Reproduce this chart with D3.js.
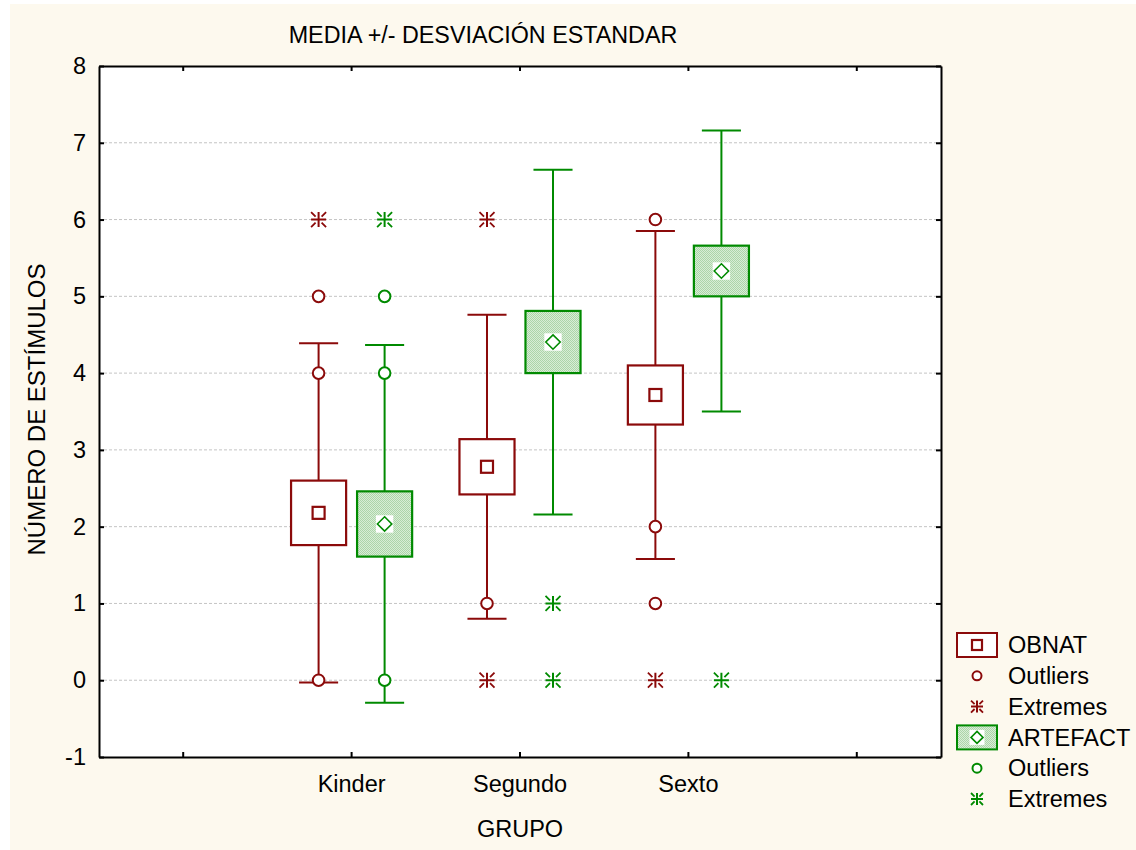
<!DOCTYPE html>
<html>
<head>
<meta charset="utf-8">
<script src="https://cdn.jsdelivr.net/npm/d3@7"></script>
<style>
  html, body { margin: 0; padding: 0; background: #ffffff; }
  svg { display: block; }
  text { font-family: "Liberation Sans", Arial, sans-serif; fill: #000; }
</style>
</head>
<body>
<svg id="chart" width="1136" height="850"></svg>
<script>
// Group labels along the x axis (outer slots are empty padding slots)
const xSlots = ["pad0", "Kinder", "Segundo", "Sexto", "pad1"];
const xTickLabels = ["", "Kinder", "Segundo", "Sexto", ""];
const groups = ["Kinder", "Segundo", "Sexto"];
const seriesNames = ["OBNAT", "ARTEFACT"];
const yTicks = [-1, 0, 1, 2, 3, 4, 5, 6, 7, 8];
const gridValues = [0, 1, 2, 3, 4, 5, 6, 7];

// OBNAT: mean, standard error (box half-height), standard deviation (whisker)
const obnatMean = [2.18, 2.78, 3.715];
const obnatSE = [0.42, 0.36, 0.385];
const obnatSD = [2.21, 1.98, 2.135];
const obnatOutliers = [[0, 4, 5], [1], [1, 2, 6]];
const obnatExtremes = [[6], [0, 6], [0]];

// ARTEFACT
const artefactMean = [2.035, 4.405, 5.33];
const artefactSE = [0.425, 0.405, 0.33];
const artefactSD = [2.33, 2.245, 1.83];
const artefactOutliers = [[0, 4, 5], [], []];
const artefactExtremes = [[6], [0, 1], [0]];

const RED = "#8b0a0a";
const GREEN = "#008a00";
const FONT = "23.5px";

const svg = d3.select("#chart");
const defs = svg.append("defs");
// dithered light-green fill for ARTEFACT boxes
const pat = defs.append("pattern").attr("id", "greenDither")
  .attr("width", 2).attr("height", 2).attr("patternUnits", "userSpaceOnUse");
pat.append("rect").attr("width", 2).attr("height", 2).attr("fill", "#d8edd6");
pat.append("rect").attr("width", 1).attr("height", 1).attr("fill", "#acd5a9");
pat.append("rect").attr("x", 1).attr("y", 1).attr("width", 1).attr("height", 1).attr("fill", "#acd5a9");

// page background
svg.append("rect").attr("x", 10).attr("y", 4).attr("width", 1126).attr("height", 846)
  .attr("fill", "#fdf9ee");

const plot = { left: 99, right: 941, top: 66, bottom: 757 };
svg.append("rect").attr("x", plot.left).attr("y", plot.top)
  .attr("width", plot.right - plot.left).attr("height", plot.bottom - plot.top)
  .attr("fill", "#ffffff");

const x = d3.scaleBand().domain(xSlots).range([plot.left, plot.right]).padding(0);
const y = d3.scaleLinear().domain([-1, 8]).range([plot.bottom, plot.top]);
const bw = x.bandwidth();
const inner = d3.scalePoint().domain(seriesNames).range([-0.196 * bw, 0.196 * bw]);
const boxW = 0.327 * bw;
const capW = 0.232 * bw;

// horizontal dashed grid
svg.append("g").selectAll("line").data(gridValues).join("line")
  .attr("x1", plot.left).attr("x2", plot.right)
  .attr("y1", d => y(d)).attr("y2", d => y(d))
  .attr("stroke", "#c4c4c4").attr("stroke-width", 1).attr("stroke-dasharray", "3,2");

// data table for the two series
const series = [
  { name: "OBNAT", color: RED, fill: "#ffffff", mean: obnatMean, se: obnatSE, sd: obnatSD,
    outliers: obnatOutliers, extremes: obnatExtremes, marker: "square" },
  { name: "ARTEFACT", color: GREEN, fill: "url(#greenDither)", mean: artefactMean, se: artefactSE, sd: artefactSD,
    outliers: artefactOutliers, extremes: artefactExtremes, marker: "diamond" }
];

function cx(group, s) { return x(group) + bw / 2 + inner(s); }

function drawMeanMarker(g, type, px, py, color, size) {
  if (type === "square") {
    g.append("rect").attr("x", px - size / 2).attr("y", py - size / 2)
      .attr("width", size).attr("height", size)
      .attr("fill", "#ffffff").attr("stroke", color).attr("stroke-width", 2.2);
  } else {
    const h = size * 0.6;
    g.append("rect").attr("x", px - h - 1.5).attr("y", py - h - 1.5)
      .attr("width", 2 * h + 3).attr("height", 2 * h + 3).attr("fill", "#ffffff");
    g.append("path")
      .attr("d", `M${px},${py - h}L${px + h},${py}L${px},${py + h}L${px - h},${py}Z`)
      .attr("fill", "#ffffff").attr("stroke", color).attr("stroke-width", 1.6);
  }
}

function drawExtreme(g, px, py, color, r) {
  g.append("path")
    .attr("d", `M${px - r},${py}H${px + r}M${px},${py - r}V${py + r}`)
    .attr("stroke", color).attr("stroke-width", 2).attr("fill", "none");
  const a = r * 0.4, b = r;
  let d = "";
  [[1, 1], [1, -1], [-1, 1], [-1, -1]].forEach(([sx, sy]) => {
    d += `M${px + sx * a},${py + sy * a}L${px + sx * b},${py + sy * b}`;
  });
  g.append("path").attr("d", d).attr("stroke", color).attr("stroke-width", 1.8).attr("fill", "none");
}

function drawOutlier(g, px, py, color, r) {
  g.append("circle").attr("cx", px).attr("cy", py).attr("r", r)
    .attr("fill", "#ffffff").attr("stroke", color).attr("stroke-width", 2);
}

const marks = svg.append("g");
series.forEach(s => {
  groups.forEach((grp, i) => {
    const px = cx(grp, s.name);
    const m = s.mean[i], se = s.se[i], sd = s.sd[i];
    const g = marks.append("g");
    // whisker (mean ± SD)
    g.append("line").attr("x1", px).attr("x2", px)
      .attr("y1", y(m + sd)).attr("y2", y(m - sd))
      .attr("stroke", s.color).attr("stroke-width", 2);
    [m + sd, m - sd].forEach(v => {
      g.append("line").attr("x1", px - capW / 2).attr("x2", px + capW / 2)
        .attr("y1", y(v)).attr("y2", y(v))
        .attr("stroke", s.color).attr("stroke-width", 2);
    });
    // box (mean ± SE)
    g.append("rect").attr("x", px - boxW / 2).attr("y", y(m + se))
      .attr("width", boxW).attr("height", y(m - se) - y(m + se))
      .attr("fill", s.fill).attr("stroke", s.color).attr("stroke-width", 2.2);
    drawMeanMarker(g, s.marker, px, y(m), s.color, 12);
  });
});

// outliers and extremes on top
series.forEach(s => {
  groups.forEach((grp, i) => {
    const px = cx(grp, s.name);
    s.outliers[i].forEach(v => drawOutlier(marks, px, y(v), s.color, 5.8));
    s.extremes[i].forEach(v => drawExtreme(marks, px, y(v), s.color, 7.5));
  });
});

// axes: frame with inward ticks
const fmtX = (d, i) => xTickLabels[i];
const axisStyle = g => {
  g.select(".domain").attr("stroke", "#000").attr("stroke-width", 2);
  g.selectAll(".tick line").attr("stroke", "#000").attr("stroke-width", 2);
  g.selectAll("text").style("font-family", '"Liberation Sans", Arial, sans-serif')
    .style("font-size", FONT).attr("fill", "#000");
};
svg.append("g").attr("transform", `translate(${plot.left},0)`)
  .call(d3.axisLeft(y).tickValues(yTicks).tickFormat(d => String(d))
    .tickSizeInner(-5).tickSizeOuter(0).tickPadding(13))
  .call(axisStyle);
svg.append("g").attr("transform", `translate(${plot.right},0)`)
  .call(d3.axisRight(y).tickValues(yTicks).tickFormat("")
    .tickSizeInner(-5).tickSizeOuter(0))
  .call(axisStyle);
svg.append("g").attr("transform", `translate(0,${plot.bottom})`)
  .call(d3.axisBottom(x).tickFormat(fmtX).tickSizeInner(-5).tickSizeOuter(0).tickPadding(18))
  .call(axisStyle);
svg.append("g").attr("transform", `translate(0,${plot.top})`)
  .call(d3.axisTop(x).tickFormat("").tickSizeInner(-5).tickSizeOuter(0))
  .call(axisStyle);

// titles
svg.append("text").attr("x", 483).attr("y", 43).attr("text-anchor", "middle")
  .style("font-size", "23.3px").text("MEDIA +/- DESVIACIÓN ESTANDAR");
svg.append("text").attr("x", (plot.left + plot.right) / 2).attr("y", 837).attr("text-anchor", "middle")
  .style("font-size", FONT).text("GRUPO");
svg.append("text").attr("transform", `translate(45,${(plot.top + plot.bottom) / 2 - 2}) rotate(-90)`)
  .attr("text-anchor", "middle").style("font-size", "24px").text("NÚMERO DE ESTÍMULOS");

// legend
const legendRows = [
  { label: "OBNAT", kind: "box", s: series[0] },
  { label: "Outliers", kind: "outlier", s: series[0] },
  { label: "Extremes", kind: "extreme", s: series[0] },
  { label: "ARTEFACT", kind: "box", s: series[1] },
  { label: "Outliers", kind: "outlier", s: series[1] },
  { label: "Extremes", kind: "extreme", s: series[1] }
];
const legend = svg.append("g");
const ly = d3.scalePoint().domain(d3.range(legendRows.length)).range([645, 799]);
legendRows.forEach((row, i) => {
  const yy = ly(i), sx = 977;
  if (row.kind === "box") {
    legend.append("rect").attr("x", sx - 20).attr("y", yy - 12).attr("width", 40).attr("height", 24)
      .attr("fill", row.s.fill).attr("stroke", row.s.color).attr("stroke-width", 2);
    drawMeanMarker(legend, row.s.marker, sx, yy, row.s.color, 10);
  } else if (row.kind === "outlier") {
    drawOutlier(legend, sx, yy, row.s.color, 4.5);
  } else {
    drawExtreme(legend, sx, yy, row.s.color, 6);
  }
  legend.append("text").attr("x", 1008).attr("y", yy).attr("dy", "0.35em")
    .style("font-size", FONT).text(row.label);
});
</script>
</body>
</html>
